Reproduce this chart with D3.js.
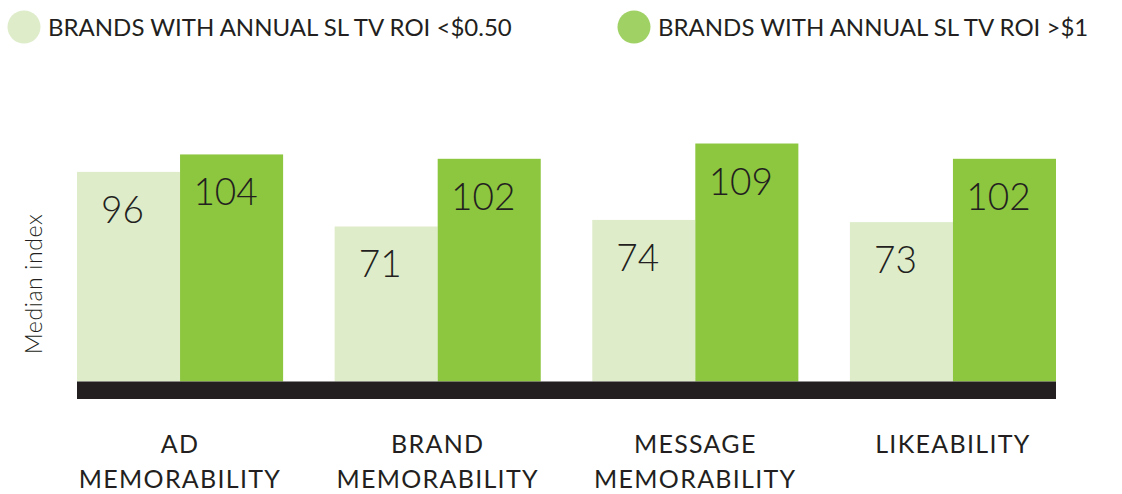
<!DOCTYPE html>
<html>
<head>
<meta charset="utf-8">
<script src="https://cdn.jsdelivr.net/npm/d3@7"></script>
<style>
  body { margin: 0; background: #fff; }
  text { font-family: Lato, "DejaVu Sans", sans-serif; font-weight: 300; fill: #231f20; }
  .legend-text, .category { font-weight: 400; }
</style>
</head>
<body>
<svg width="1122" height="494"></svg>
<script>
const categories = [['AD', 'MEMORABILITY'], ['BRAND', 'MEMORABILITY'], ['MESSAGE', 'MEMORABILITY'], ['LIKEABILITY']];
const seriesNames = ['BRANDS WITH ANNUAL SL TV ROI <$0.50', 'BRANDS WITH ANNUAL SL TV ROI >$1'];
const lowRoi = [96, 71, 74, 73];
const highRoi = [104, 102, 109, 102];
const yAxisLabel = 'Median index';

const colors = ['#deecca', '#8dc63f'];
const legendColors = ['#deecca', '#a0d165'];

const svg = d3.select('svg');
const width = +svg.attr('width');
const height = +svg.attr('height');

const margin = { left: 77, right: 66, baseline: 381.5 };

const data = categories.map((c, i) => ({
    label: c,
    values: [lowRoi[i], highRoi[i]]
}));

const xScale = d3.scaleBand()
    .domain(d3.range(categories.length))
    .range([margin.left, width - margin.right])
    .paddingInner(0.2)
    .paddingOuter(0);

const xInner = d3.scaleBand()
    .domain([0, 1])
    .range([0, xScale.bandwidth()])
    .padding(0);

const yScale = d3.scaleLinear()
    .domain([0, 120])
    .range([margin.baseline, margin.baseline - 262]);

// bars
const groups = svg.append('g')
    .selectAll('g')
    .data(data)
    .join('g')
    .attr('transform', (d, i) => `translate(${xScale(i)}, 0)`);

groups.selectAll('rect')
    .data(d => d.values)
    .join('rect')
    .attr('x', (d, j) => xInner(j))
    .attr('width', xInner.bandwidth())
    .attr('y', d => yScale(d))
    .attr('height', d => yScale(0) - yScale(d))
    .attr('fill', (d, j) => colors[j]);

groups.selectAll('text.value')
    .data(d => d.values)
    .join('text')
    .classed('value', true)
    .attr('x', (d, j) => xInner(j) + xInner.bandwidth() / 2 - 6)
    .attr('y', d => yScale(d) + 51)
    .attr('text-anchor', 'middle')
    .style('font-size', '37px')
    .text(d => d);

// black base bar
svg.append('rect')
    .attr('x', margin.left)
    .attr('y', margin.baseline)
    .attr('width', width - margin.left - margin.right)
    .attr('height', 17.5)
    .attr('fill', '#231f20');

// category labels
groups.append('text')
    .classed('category', true)
    .attr('x', xScale.bandwidth() / 2)
    .attr('y', 453)
    .attr('text-anchor', 'middle')
    .style('font-size', '25px')
    .style('letter-spacing', '1.3px')
    .selectAll('tspan')
    .data(d => d.label)
    .join('tspan')
    .attr('x', xScale.bandwidth() / 2)
    .attr('dy', (d, k) => k === 0 ? 0 : 35)
    .text(d => d);

// y axis label
svg.append('text')
    .attr('transform', 'rotate(-90)')
    .attr('x', -284)
    .attr('y', 42)
    .attr('text-anchor', 'middle')
    .style('font-size', '23px')
    .style('letter-spacing', '0.6px')
    .text(yAxisLabel);

// legend
const legendX = [24, 634];
const legend = svg.append('g')
    .selectAll('g')
    .data(seriesNames)
    .join('g')
    .attr('transform', (d, i) => `translate(${legendX[i]}, 27)`);

legend.append('circle')
    .attr('r', 16.5)
    .attr('fill', (d, i) => legendColors[i]);

legend.append('text')
    .classed('legend-text', true)
    .attr('x', 24)
    .attr('y', 9)
    .style('font-size', '24px')
    .text(d => d);
</script>
</body>
</html>
